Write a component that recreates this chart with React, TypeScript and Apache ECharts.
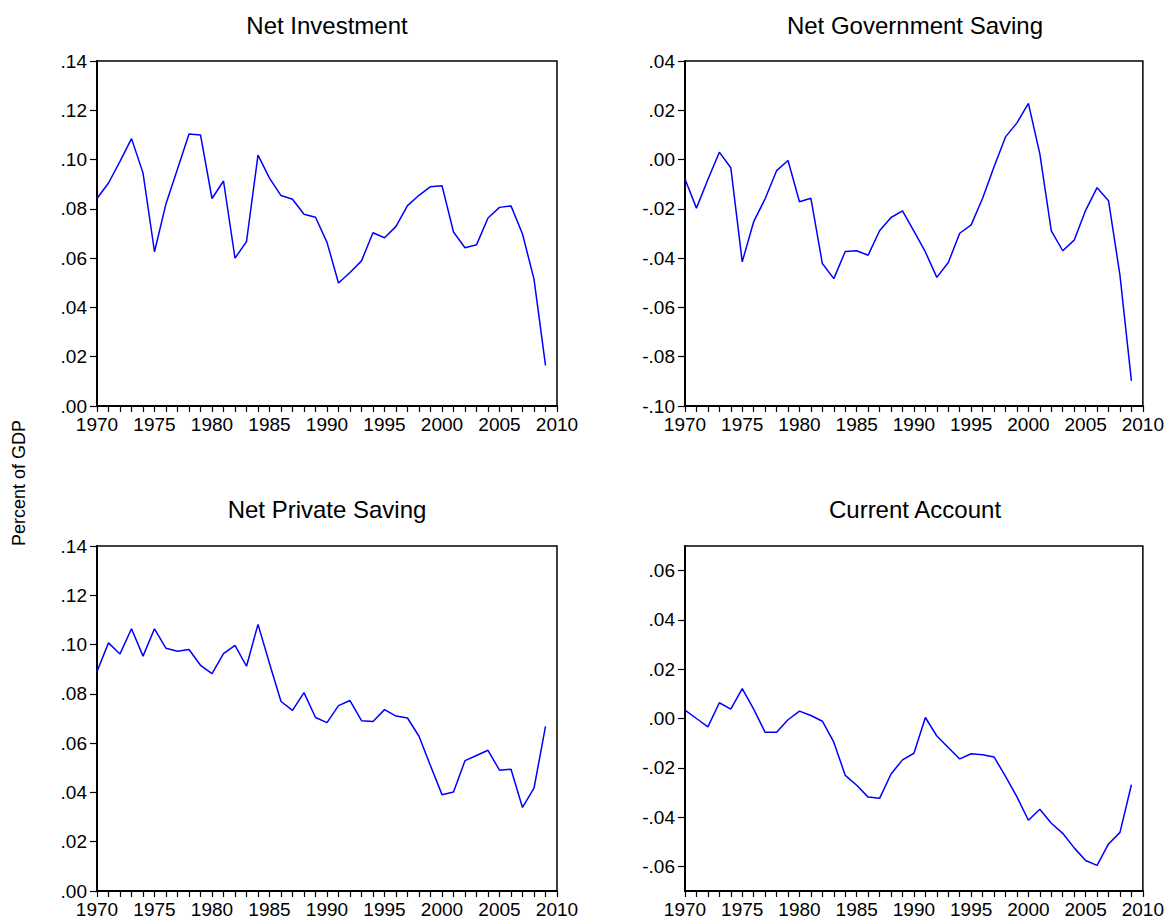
import React, { useEffect, useRef } from "react";
import * as echarts from "echarts";

const years = [
  1970, 1971, 1972, 1973, 1974, 1975, 1976, 1977, 1978, 1979,
  1980, 1981, 1982, 1983, 1984, 1985, 1986, 1987, 1988, 1989,
  1990, 1991, 1992, 1993, 1994, 1995, 1996, 1997, 1998, 1999,
  2000, 2001, 2002, 2003, 2004, 2005, 2006, 2007, 2008, 2009,
];

const netInvestment = [
  0.0842, 0.0905, 0.0993, 0.1085, 0.0946, 0.0626, 0.0821, 0.0962, 0.1104, 0.1100,
  0.0842, 0.0913, 0.0600, 0.0667, 0.1018, 0.0925, 0.0854, 0.0839, 0.0778, 0.0766,
  0.0664, 0.0499, 0.0542, 0.0589, 0.0703, 0.0683, 0.0729, 0.0813, 0.0855, 0.0890,
  0.0894, 0.0706, 0.0642, 0.0654, 0.0763, 0.0806, 0.0812, 0.0698, 0.0515, 0.0165,
];

const netGovernmentSaving = [
  -0.0079, -0.0197, -0.0081, 0.0030, -0.0033, -0.0415, -0.0252, -0.0159, -0.0045, -0.0004,
  -0.0171, -0.0157, -0.0422, -0.0483, -0.0373, -0.0370, -0.0388, -0.0289, -0.0235, -0.0208,
  -0.0290, -0.0375, -0.0478, -0.0418, -0.0299, -0.0265, -0.0157, -0.0029, 0.0092, 0.0149,
  0.0228, 0.0023, -0.0289, -0.0370, -0.0327, -0.0206, -0.0114, -0.0167, -0.0470, -0.0898,
];

const netPrivateSaving = [
  0.0891, 0.1007, 0.0962, 0.1064, 0.0953, 0.1064, 0.0985, 0.0973, 0.0980, 0.0916,
  0.0882, 0.0963, 0.0997, 0.0912, 0.1082, 0.0923, 0.0769, 0.0733, 0.0805, 0.0704,
  0.0683, 0.0752, 0.0773, 0.0691, 0.0688, 0.0736, 0.0710, 0.0702, 0.0628, 0.0508,
  0.0391, 0.0402, 0.0529, 0.0550, 0.0571, 0.0490, 0.0494, 0.0339, 0.0417, 0.0668,
];

const currentAccount = [
  0.0034, 0.0000, -0.0034, 0.0064, 0.0038, 0.0121, 0.0038, -0.0056, -0.0056, -0.0005,
  0.0030, 0.0012, -0.0011, -0.0096, -0.0231, -0.0271, -0.0319, -0.0324, -0.0225, -0.0168,
  -0.0141, 0.0004, -0.0071, -0.0118, -0.0164, -0.0143, -0.0147, -0.0156, -0.0235, -0.0318,
  -0.0413, -0.0368, -0.0425, -0.0466, -0.0525, -0.0576, -0.0596, -0.0509, -0.0462, -0.0269,
];

const titles = ["Net Investment", "Net Government Saving", "Net Private Saving", "Current Account"];
const yAxisLabel = "Percent of GDP";

const xLabelYears = [1970, 1975, 1980, 1985, 1990, 1995, 2000, 2005, 2010];
const xTickYears = [
  1970, 1971, 1972, 1973, 1974, 1975, 1976, 1977, 1978, 1979,
  1980, 1981, 1982, 1983, 1984, 1985, 1986, 1987, 1988, 1989,
  1990, 1991, 1992, 1993, 1994, 1995, 1996, 1997, 1998, 1999,
  2000, 2001, 2002, 2003, 2004, 2005, 2006, 2007, 2008, 2009, 2010,
];

const yTicks1 = [0, 0.02, 0.04, 0.06, 0.08, 0.1, 0.12, 0.14];
const yTicks2 = [-0.1, -0.08, -0.06, -0.04, -0.02, 0, 0.02, 0.04];
const yTicks3 = [0, 0.02, 0.04, 0.06, 0.08, 0.1, 0.12, 0.14];
const yTicks4 = [-0.06, -0.04, -0.02, 0, 0.02, 0.04, 0.06];

const yRanges = [
  [0, 0.14],
  [-0.1, 0.04],
  [0, 0.14],
  [-0.07, 0.07],
];

const FONT = '"Liberation Sans", Arial, Helvetica, sans-serif';

const fmtY = (v: number) => {
  const s = (Math.round(v * 100) / 100).toFixed(2);
  return s.replace("0.", ".");
};

export default function App() {
  const ref = useRef<HTMLDivElement>(null);

  useEffect(() => {
    if (!ref.current) return;
    const chart = echarts.init(ref.current, null, { renderer: "svg" });

    const seriesValues = [netInvestment, netGovernmentSaving, netPrivateSaving, currentAccount];
    const yTicks = [yTicks1, yTicks2, yTicks3, yTicks4];
    const grids = [
      { left: 97, top: 61, width: 460, height: 345 },
      { left: 685, top: 61, width: 460, height: 345 },
      { left: 97, top: 546, width: 460, height: 345 },
      { left: 685, top: 546, width: 460, height: 345 },
    ];
    const titlePos = [
      [327, 25],
      [915, 25],
      [327, 509],
      [915, 509],
    ];

    const option: any = {
      animation: false,
      backgroundColor: "#ffffff",
      grid: grids.map((g) => ({
        ...g,
        show: true,
        borderColor: "#000000",
        borderWidth: 1.5,
        backgroundColor: "transparent",
        containLabel: false,
      })),
      xAxis: grids.map((_, i) => ({
        type: "value",
        gridIndex: i,
        min: 1970,
        max: 2010,
        splitLine: { show: false },
        axisLine: { show: true, onZero: false, lineStyle: { color: "#000", width: 2 } },
        axisTick: {
          show: true,
          inside: false,
          length: 6,
          lineStyle: { color: "#000", width: 1.2 },
          customValues: xTickYears,
        },
        axisLabel: {
          show: true,
          color: "#000",
          fontSize: 19,
          fontFamily: FONT,
          margin: 9,
          hideOverlap: false,
          customValues: xLabelYears,
          formatter: (v: number) => String(v),
        },
      })),
      yAxis: grids.map((_, i) => ({
        type: "value",
        gridIndex: i,
        min: yRanges[i][0],
        max: yRanges[i][1],
        splitLine: { show: false },
        axisLine: { show: true, onZero: false, lineStyle: { color: "#000", width: 2 } },
        axisTick: {
          show: true,
          inside: false,
          length: 7,
          lineStyle: { color: "#000", width: 1.2 },
          customValues: yTicks[i],
        },
        axisLabel: {
          show: true,
          color: "#000",
          fontSize: 19,
          fontFamily: FONT,
          margin: 10,
          hideOverlap: false,
          customValues: yTicks[i],
          formatter: (v: number) => fmtY(v),
        },
      })),
      series: seriesValues.map((vals, i) => ({
        type: "line",
        xAxisIndex: i,
        yAxisIndex: i,
        data: years.map((y, k) => [y, vals[k]]),
        showSymbol: false,
        symbol: "none",
        lineStyle: { color: "#0000ff", width: 1.5 },
        itemStyle: { color: "#0000ff" },
      })),
      graphic: [
        ...titles.map((t, i) => ({
          type: "text",
          x: titlePos[i][0],
          y: titlePos[i][1],
          silent: true,
          style: {
            text: t,
            fontSize: 24,
            fontFamily: FONT,
            fill: "#000",
            textAlign: "center",
            textVerticalAlign: "middle",
          },
        })),
        {
          type: "text",
          x: 19,
          y: 483,
          rotation: Math.PI / 2,
          silent: true,
          style: {
            text: yAxisLabel,
            fontSize: 18,
            fontFamily: FONT,
            fill: "#000",
            textAlign: "center",
            textVerticalAlign: "middle",
          },
        },
      ],
    };

    chart.setOption(option);
    return () => chart.dispose();
  }, []);

  return (
    <div
      ref={ref}
      style={{ position: "absolute", left: 0, top: 0, width: 1167, height: 920, background: "#fff" }}
    />
  );
}
